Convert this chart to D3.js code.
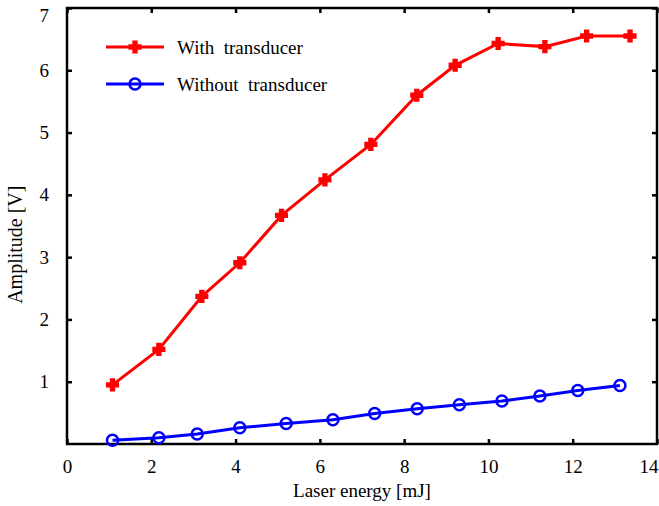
<!DOCTYPE html>
<html>
<head>
<meta charset="utf-8">
<script src="https://cdn.jsdelivr.net/npm/d3@7"></script>
<style>
  body { margin: 0; background: #fff; }
  text { font-family: "Liberation Serif", "Times New Roman", serif; fill: #000; }
</style>
</head>
<body>
<svg id="chart" width="659" height="506"></svg>
<script>
// values
const withX = [1.08, 2.18, 3.2, 4.1, 5.09, 6.12, 7.21, 8.3, 9.21, 10.23, 11.34, 12.33, 13.36]
const withY = [0.95, 1.52, 2.37, 2.91, 3.67, 4.24, 4.81, 5.6, 6.08, 6.43, 6.38, 6.55, 6.55]
const withoutX = [1.08, 2.18, 3.09, 4.1, 5.2, 6.31, 7.3, 8.31, 9.31, 10.32, 11.22, 12.12, 13.12]
const withoutY = [0.06, 0.1, 0.16, 0.26, 0.33, 0.39, 0.49, 0.565, 0.63, 0.69, 0.77, 0.86, 0.94]
const xTicks = [0, 2, 4, 6, 8, 10, 12, 14]
const yTicks = [1, 2, 3, 4, 5, 6, 7]
const seriesNames = ['With  transducer', 'Without  transducer']

const margin = { left: 67, right: 2, top: 8, bottom: 62 }
const width = 659
const height = 506
const fontSize = '19px'

const svg = d3.select('#chart')

const x = d3.scaleLinear().domain([0, 14]).range([margin.left, width - margin.right])
const y = d3.scaleLinear().domain([0, 7]).range([height - margin.bottom, margin.top])

const tickLen = 5
const axisW = 2.5

// bottom axis
const xAxis = svg.append('g')
  .attr('transform', 'translate(0,' + y(0) + ')')
  .call(d3.axisBottom(x).tickValues(xTicks).tickSize(-tickLen).tickPadding(16).tickSizeOuter(0).tickFormat(d3.format('d')))
xAxis.select('.domain').remove()
xAxis.selectAll('line').attr('stroke-width', axisW)
xAxis.selectAll('text').style('font-size', fontSize)
// last label sits on the page edge, keep it inside
xAxis.selectAll('text').filter(d => d === 14)
  .attr('text-anchor', 'end')
  .attr('x', width - x(14) - 1)

// top ticks
const xTop = svg.append('g')
  .attr('transform', 'translate(0,' + y(7) + ')')
  .call(d3.axisTop(x).tickValues(xTicks).tickSize(-tickLen).tickFormat('').tickSizeOuter(0))
xTop.select('.domain').remove()
xTop.selectAll('line').attr('stroke-width', axisW)

// left axis
const yAxis = svg.append('g')
  .attr('transform', 'translate(' + x(0) + ',0)')
  .call(d3.axisLeft(y).tickValues(yTicks).tickSize(-tickLen).tickPadding(18).tickSizeOuter(0).tickFormat(d3.format('d')))
yAxis.select('.domain').remove()
yAxis.selectAll('line').attr('stroke-width', axisW)
yAxis.selectAll('text').style('font-size', fontSize)
yAxis.selectAll('text').filter(d => d === 7).attr('dy', '0.7em')

// right ticks
const yRight = svg.append('g')
  .attr('transform', 'translate(' + x(14) + ',0)')
  .call(d3.axisRight(y).tickValues(yTicks).tickSize(-tickLen).tickFormat('').tickSizeOuter(0))
yRight.select('.domain').remove()
yRight.selectAll('line').attr('stroke-width', axisW)

// box
svg.append('rect')
  .attr('x', x(0))
  .attr('y', y(7))
  .attr('width', x(14) - x(0))
  .attr('height', y(0) - y(7))
  .attr('fill', 'none')
  .attr('stroke', '#000')
  .attr('stroke-width', axisW)

// axis titles
svg.append('text')
  .attr('x', (x(0) + x(14)) / 2)
  .attr('y', 497)
  .attr('text-anchor', 'middle')
  .style('font-size', fontSize)
  .text('Laser energy [mJ]')

svg.append('text')
  .attr('transform', 'translate(22,' + y(3.2) + ') rotate(-90)')
  .attr('text-anchor', 'middle')
  .style('font-size', '20px')
  .text('Amplitude [V]')

const line = d3.line().x(d => x(d[0])).y(d => y(d[1]))
const withData = withX.map((v, i) => [v, withY[i]])
const withoutData = withoutX.map((v, i) => [v, withoutY[i]])

const cross = d3.symbol().type(d3.symbolCross).size(75)

// with transducer
svg.append('path')
  .datum(withData)
  .attr('d', line)
  .attr('fill', 'none')
  .attr('stroke', '#ff0000')
  .attr('stroke-width', 3)

svg.selectAll('.mk-with')
  .data(withData)
  .enter()
  .append('path')
  .attr('class', 'mk-with')
  .attr('transform', d => 'translate(' + x(d[0]) + ',' + y(d[1]) + ')')
  .attr('d', cross)
  .attr('fill', '#ff0000')
  .attr('stroke', '#ff0000')
  .attr('stroke-width', 1.5)

// without transducer
svg.append('path')
  .datum(withoutData)
  .attr('d', line)
  .attr('fill', 'none')
  .attr('stroke', '#0000ff')
  .attr('stroke-width', 3)

svg.selectAll('.mk-without')
  .data(withoutData)
  .enter()
  .append('circle')
  .attr('class', 'mk-without')
  .attr('cx', d => x(d[0]))
  .attr('cy', d => y(d[1]))
  .attr('r', 5.5)
  .attr('fill', 'none')
  .attr('stroke', '#0000ff')
  .attr('stroke-width', 2.5)

// legend
const legend = svg.append('g')
const legendRows = [
  { name: seriesNames[0], color: '#ff0000', y: 47 },
  { name: seriesNames[1], color: '#0000ff', y: 84 }
]
legendRows.forEach((r, i) => {
  legend.append('line')
    .attr('x1', 106).attr('x2', 164)
    .attr('y1', r.y).attr('y2', r.y)
    .attr('stroke', r.color)
    .attr('stroke-width', 3)
  if (i === 0) {
    legend.append('path')
      .attr('transform', 'translate(135,' + r.y + ')')
      .attr('d', cross)
      .attr('fill', r.color)
      .attr('stroke', r.color)
      .attr('stroke-width', 1.5)
  } else {
    legend.append('circle')
      .attr('cx', 135).attr('cy', r.y).attr('r', 5.5)
      .attr('fill', 'none')
      .attr('stroke', r.color)
      .attr('stroke-width', 2.5)
  }
  legend.append('text')
    .attr('x', 177)
    .attr('y', r.y)
    .attr('dy', '0.35em')
    .style('font-size', fontSize)
    .style('white-space', 'pre')
    .text(r.name)
})
</script>
</body>
</html>
